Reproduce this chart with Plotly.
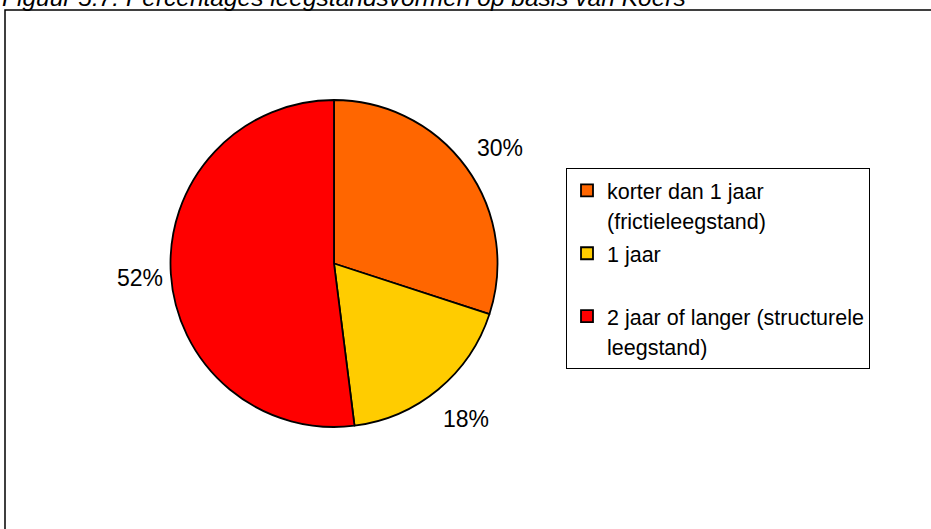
import math
import plotly.graph_objects as go

# Leegstand naar duur
labels = ["korter dan 1 jaar (frictieleegstand)", "1 jaar", "2 jaar of langer (structurele leegstand)"]
values = [30, 18, 52]
colors = ["#FF6600", "#FFCC00", "#FF0000"]
title_text = "Figuur 5.7: Percentages leegstandsvormen op basis van Koers"

W, H = 931, 529
FONT = "Liberation Sans, Arial, sans-serif"

# Pie placement in pixels (centre and radius)
CX, CY, R = 334, 263.5, 163.5
LABEL_R = 1.22 * R

# Legend entries are wrapped over two lines, like the original chart box
legend_lines = {
    labels[0]: ["korter dan 1 jaar", "(frictieleegstand)"],
    labels[1]: ["1 jaar", "\u00a0"],
    labels[2]: ["2 jaar of langer (structurele", "leegstand)"],
}
display = ["<br>".join(f"<span style='font-size:21.5px'>{t}</span>" for t in legend_lines[l])
           for l in labels]


def px_x(v):
    return v / W


def px_y(v):
    return 1 - v / H


fig = go.Figure(go.Pie(
    labels=display,
    values=values,
    sort=False,
    direction="clockwise",
    rotation=0,
    marker=dict(colors=colors, line=dict(color="black", width=1.8)),
    textinfo="none",
    domain=dict(x=[px_x(CX - R), px_x(CX + R)], y=[px_y(CY + R), px_y(CY - R)]),
    hoverinfo="skip",
))

# Percentage labels outside the slices, at each slice's mid angle
total = sum(values)
annotations = []
cum = 0
for v in values:
    mid = (cum + v / 2) / total * 2 * math.pi
    cum += v
    lx = CX + LABEL_R * math.sin(mid)
    ly = CY - LABEL_R * math.cos(mid)
    annotations.append(dict(
        text=f"{v / total:.0%}", xref="paper", yref="paper",
        x=px_x(lx), y=px_y(ly), xanchor="center", yanchor="middle",
        xshift=5, yshift=-2,
        showarrow=False, font=dict(family=FONT, size=23, color="black"),
    ))

annotations.append(dict(
    text=f"<i>{title_text}</i>", xref="paper", yref="paper",
    x=0, y=1, xanchor="left", yanchor="middle", yshift=3,
    showarrow=False, font=dict(family=FONT, size=24.5, color="black"),
))

fig.update_layout(
    width=W, height=H,
    margin=dict(l=0, r=0, t=0, b=0),
    paper_bgcolor="white",
    font=dict(family=FONT, color="black"),
    showlegend=True,
    legend=dict(
        x=px_x(566), y=px_y(168), xanchor="left", yanchor="top",
        font=dict(family=FONT, size=23, color="black"),
        bordercolor="black", borderwidth=1, bgcolor="white",
        valign="top", traceorder="normal",
    ),
    shapes=[dict(
        type="rect", xref="paper", yref="paper",
        x0=px_x(5), x1=1.02, y0=-0.02, y1=px_y(10),
        line=dict(color="black", width=1.5), layer="below",
    )],
    annotations=annotations,
)

fig.write_html("out.html")
